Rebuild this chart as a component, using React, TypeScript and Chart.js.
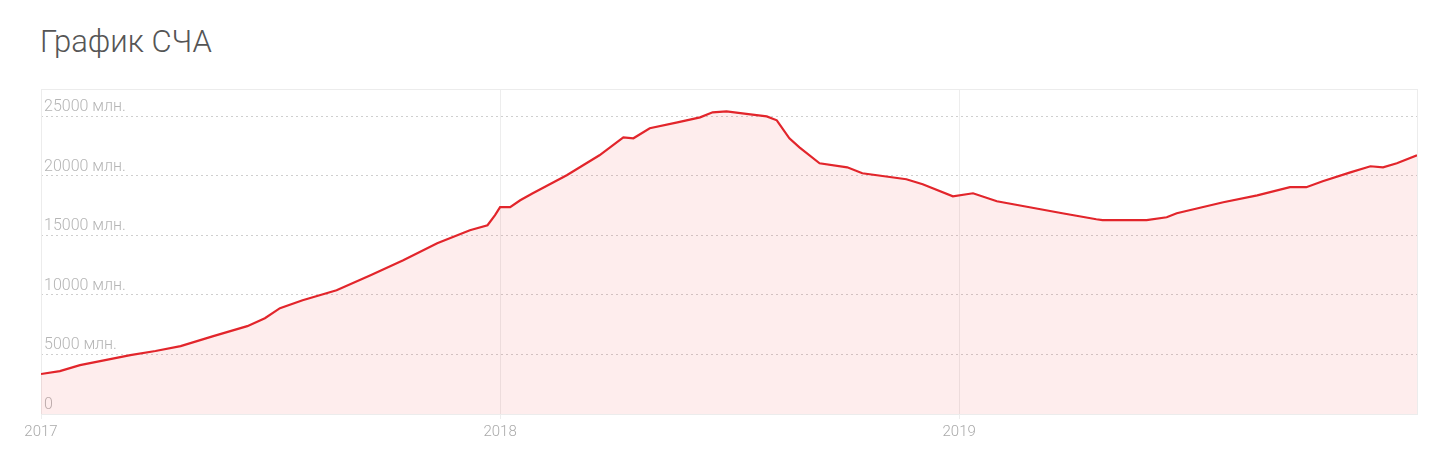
import React, { useEffect, useRef } from "react";
import { Chart, registerables } from "chart.js";

Chart.register(...registerables);

const dates: string[] = [
  "2017-01-01", "2017-01-16", "2017-02-01", "2017-02-21", "2017-03-13", "2017-04-02",
  "2017-04-22", "2017-05-18", "2017-06-14", "2017-06-28", "2017-07-10", "2017-07-28",
  "2017-08-24", "2017-09-20", "2017-10-16", "2017-11-12", "2017-12-08", "2017-12-22",
  "2017-12-28", "2018-01-01", "2018-01-09", "2018-01-17", "2018-01-27", "2018-02-23",
  "2018-03-21", "2018-04-09", "2018-04-17", "2018-04-30", "2018-05-22", "2018-06-09",
  "2018-06-19", "2018-06-30", "2018-07-19", "2018-08-01", "2018-08-09", "2018-08-19",
  "2018-08-27", "2018-09-12", "2018-10-04", "2018-10-16", "2018-11-20", "2018-12-03",
  "2018-12-27", "2019-01-12", "2019-01-31", "2019-02-26", "2019-03-24", "2019-04-20",
  "2019-04-25", "2019-05-30", "2019-06-15", "2019-06-23", "2019-07-30", "2019-08-26",
  "2019-09-21", "2019-10-04", "2019-10-17", "2019-11-08", "2019-11-24", "2019-12-04",
  "2019-12-15", "2019-12-31",
];

// СЧА, млн
const navValues: number[] = [
  3360, 3600, 4100, 4530, 4950, 5290,
  5700, 6540, 7380, 8050, 8890, 9560,
  10400, 11660, 12920, 14350, 15440, 15860,
  16700, 17370, 17370, 17950, 18540, 20050,
  21730, 23240, 23160, 24000, 24500, 24920,
  25340, 25420, 25170, 25000, 24670, 23160,
  22400, 21060, 20720, 20220, 19720, 19300,
  18290, 18540, 17870, 17370, 16860, 16360,
  16280, 16280, 16530, 16860, 17790, 18370,
  19050, 19050, 19550, 20300, 20810, 20720,
  21060, 21730,
];

const yearTicks: number[] = [2017, 2018, 2019];
const valueTicks: number[] = [0, 5000, 10000, 15000, 20000, 25000];

const START = Date.UTC(2017, 0, 1);
const DAY = 86400000;
const toDay = (s: string) => {
  const [y, m, d] = s.split("-").map(Number);
  return (Date.UTC(y, m - 1, d) - START) / DAY;
};
const yearToDay = (y: number) => (Date.UTC(y, 0, 1) - START) / DAY;

const framePlugin = {
  id: "frame",
  beforeDatasetsDraw(chart: any) {
    const { ctx, chartArea } = chart;
    ctx.save();
    ctx.strokeStyle = "#ececec";
    ctx.lineWidth = 1;
    ctx.strokeRect(
      Math.round(chartArea.left) + 0.5,
      Math.round(chartArea.top) + 0.5,
      Math.round(chartArea.right - chartArea.left),
      Math.round(chartArea.bottom - chartArea.top)
    );
    ctx.restore();
  },
};

export default function App() {
  const ref = useRef<HTMLCanvasElement>(null);

  useEffect(() => {
    if (!ref.current) return;
    const data = dates.map((d, i) => ({ x: toDay(d), y: navValues[i] }));
    const chart = new Chart(ref.current, {
      type: "line",
      data: {
        datasets: [
          {
            data,
            borderColor: "#e2252b",
            borderWidth: 2.2,
            backgroundColor: "rgba(245, 60, 60, 0.09)",
            fill: "origin",
            pointRadius: 0,
            tension: 0,
          },
        ],
      },
      plugins: [framePlugin],
      options: {
        animation: false,
        responsive: false,
        maintainAspectRatio: false,
        layout: { padding: { left: 41, right: 23, top: 89, bottom: 0 } },
        plugins: { legend: { display: false }, tooltip: { enabled: false } },
        scales: {
          x: {
            type: "linear",
            min: 0,
            max: toDay("2019-12-31"),
            afterBuildTicks: (scale: any) => {
              scale.ticks = yearTicks.map((y) => ({ value: yearToDay(y) }));
            },
            afterFit: (scale: any) => {
              scale.height = 45;
            },
            ticks: {
              color: "#aaa",
              font: { family: "Roboto", size: 15, weight: "300" as any },
              padding: 4,
              maxRotation: 0,
              autoSkip: false,
              callback: (v: any) => {
                const idx = yearTicks.findIndex((y) => yearToDay(y) === v);
                return idx >= 0 ? String(yearTicks[idx]) : "";
              },
            },
            grid: {
              color: "#ededed",
              lineWidth: 1,
              tickLength: 5,
              drawTicks: true,
            },
            border: { display: true, color: "#dcdcdc" },
          },
          y: {
            min: 0,
            max: 27300,
            afterBuildTicks: (scale: any) => {
              scale.ticks = valueTicks.map((v) => ({ value: v }));
            },
            afterFit: (scale: any) => {
              scale.width = 0;
            },
            ticks: {
              mirror: true,
              padding: 3,
              labelOffset: -9,
              color: "#b5b5b5",
              font: { family: "Roboto", size: 16, weight: "300" as any },
              callback: (v: any) => (v === 0 ? "0" : `${v} млн.`),
            },
            grid: {
              color: (c: any) => (c.tick && c.tick.value === 0 ? "rgba(0,0,0,0)" : "#cfcfcf"),
              lineWidth: 1,
              drawTicks: false,
            },
            border: { display: false, dash: [2, 3] },
          },
        },
      },
    });
    return () => chart.destroy();
  }, []);

  return (
    <div style={{ position: "fixed", left: 0, top: 0, width: 1440, height: 459, background: "#fff" }}>
      <div
        style={{
          position: "absolute",
          left: 40,
          top: 23,
          fontFamily: "Roboto",
          fontWeight: 300,
          fontSize: 31,
          color: "#555",
          lineHeight: "38px",
          whiteSpace: "nowrap",
        }}
      >
        График СЧА
      </div>
      <canvas ref={ref} width={1440} height={459} style={{ position: "absolute", left: 0, top: 0 }} />
    </div>
  );
}
